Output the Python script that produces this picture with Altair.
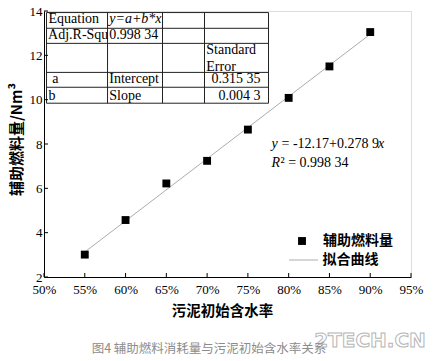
import altair as alt
import pandas as pd

# ---- data ----
moisture = [55, 60, 65, 70, 75, 80, 85, 90]          # 污泥初始含水率 (%)
fuel = [3.01, 4.57, 6.22, 7.24, 8.65, 10.08, 11.50, 13.05]  # 辅助燃料量 (Nm3)
x_ticks = [50, 55, 60, 65, 70, 75, 80, 85, 90, 95]
y_ticks = [2, 4, 6, 8, 10, 12, 14]
point_name = "辅助燃料量"
fit_name = "拟合曲线"
caption = "图4 辅助燃料消耗量与污泥初始含水率关系"

# fit-statistics table (as printed in the reference)
table_cells_left = [
    ("Equation", 50.55, 13.65), ("Adj.R-Squ", 50.50, 12.90), ("0.998 34", 58.0, 12.90),
    ("Standard", 69.9, 12.23), ("Error", 69.9, 11.47),
    ("a", 51.0, 10.92), ("Intercept", 58.0, 10.92),
    ("b", 50.55, 10.15), ("Slope", 58.0, 10.15),
    ("= -12.17+0.278 9", 79.12, 7.99), ("² = 0.998 34", 79.0, 7.13),
]
table_cells_italic = [("y=a+b*x", 58.0, 13.65), ("y", 77.9, 7.99), ("R", 77.9, 7.13), ("x", 90.95, 7.99)]
table_cells_right = [("0.315 35", 76.55, 10.92), ("0.004 3", 76.55, 10.15)]
table_rows = [13.93, 13.22, 12.54, 11.23, 10.56, 9.84]
table_cols = [50.31, 57.79, 64.53, 69.68, 77.53]

SERIF = "Liberation Serif"
CJK = "Noto Sans CJK SC"

W, H = 367, 266

xs = alt.Scale(domain=[50, 95], nice=False, zero=False)
ys = alt.Scale(domain=[2, 14], nice=False, zero=False)

x_axis = alt.Axis(values=x_ticks, labelExpr="datum.value + '%'", tickSize=0, grid=False,
                  domainColor="black", labelFont=SERIF, labelFontSize=13, labelColor="black",
                  labelPadding=6, labelFlush=False, labelOverlap=False,
                  title="污泥初始含水率", titleFont=CJK, titleFontSize=14.5, titleFontWeight="bold",
                  titleColor="black", titleX=178, titleY=34, titleAlign="center", titleBaseline="middle")
y_axis = alt.Axis(values=y_ticks, tickSize=0, grid=False, domainColor="black",
                  labelFont=SERIF, labelFontSize=13, labelColor="black", labelPadding=2,
                  labelFlush=False, labelOverlap=False,
                  title="辅助燃料量/Nm³", titleFont=CJK, titleFontSize=15, titleFontWeight="bold",
                  titleColor="black", titleX=-27.5, titleY=128, titleAngle=270,
                  titleAlign="center", titleBaseline="middle")

X = alt.X("x:Q", scale=xs, axis=x_axis)
Y = alt.Y("y:Q", scale=ys, axis=y_axis)

df = pd.DataFrame({"x": moisture, "y": fuel, "series": point_name})

points = alt.Chart(df).mark_point(filled=True, size=62, opacity=1, color="black", shape="square").encode(
    x=X, y=Y,
    shape=alt.Shape("series:N", scale=alt.Scale(domain=[point_name], range=["square"]),
                    legend=alt.Legend(title=None, orient="none", legendX=251, legendY=223,
                                      labelFont=CJK, labelFontSize=14, labelFontWeight="bold",
                                      labelColor="black", symbolSize=62, symbolFillColor="black",
                                      symbolStrokeWidth=0, labelOffset=14, padding=0)),
)

fit = alt.Chart(df).transform_regression("x", "y").transform_calculate(
    series=f"'{fit_name}'").mark_line(strokeWidth=1).encode(
    x=X, y=Y,
    color=alt.Color("series:N", scale=alt.Scale(domain=[fit_name], range=["#acacac"]),
                    legend=alt.Legend(title=None, orient="none", legendX=244.5, legendY=234,
                                      symbolType="stroke", symbolSize=841, symbolStrokeWidth=1,
                                      symbolStrokeColor="#555", labelFont=CJK, labelFontSize=14,
                                      labelFontWeight="bold", labelColor="black", labelOffset=4,
                                      padding=0)),
)

hlines = pd.DataFrame({"x": [table_cols[0]] * len(table_rows), "x2": [table_cols[-1]] * len(table_rows),
                       "y": table_rows, "y2": table_rows})
vlines = pd.DataFrame({"x": table_cols, "x2": table_cols,
                       "y": [table_rows[0]] * len(table_cols), "y2": [table_rows[-1]] * len(table_cols)})
grid_lines = alt.Chart(pd.concat([hlines, vlines])).mark_rule(color="#222", strokeWidth=1).encode(
    x=X, x2="x2:Q", y=Y, y2="y2:Q")

def text_layer(cells, **kw):
    d = pd.DataFrame(cells, columns=["label", "x", "y"])
    return alt.Chart(d).mark_text(font=SERIF, fontSize=14, color="black", baseline="middle", **kw).encode(
        x=X, y=Y, text="label:N")

t_left = text_layer(table_cells_left, align="left")
t_ital = text_layer(table_cells_italic, align="left", fontStyle="italic")
t_right = text_layer(table_cells_right, align="right")

# inward tick marks
ytk = alt.Chart(pd.DataFrame({"y": y_ticks})).mark_rule(color="black").encode(
    y=Y, x=alt.value(0), x2=alt.value(4))
xtk = alt.Chart(pd.DataFrame({"x": x_ticks})).mark_rule(color="black").encode(
    x=X, y=alt.value(H), y2=alt.value(H - 4))

cap = alt.Chart(pd.DataFrame({"t": [caption]})).mark_text(
    font=CJK, fontSize=12.5, color="#8c8c8c", align="center", baseline="middle").encode(
    text="t:N", x=alt.value(165), y=alt.value(338))

watermark = alt.Chart(pd.DataFrame({"t": ["2TECH.CN"]})).mark_text(
    font="DejaVu Sans", fontSize=20, fontWeight="bold", fill="white", stroke="#b5b5b5",
    strokeWidth=1, align="center", baseline="middle").encode(
    text="t:N", x=alt.value(326), y=alt.value(330))

chart = alt.layer(grid_lines, fit, points, t_left, t_ital, t_right, ytk, xtk, watermark, cap).properties(
    width=W, height=H,
    padding={"left": 44, "top": 11, "right": 435 - 44 - W, "bottom": 361 - 11 - H},
    autosize=alt.AutoSizeParams(type="none"),
).resolve_legend(color="independent", shape="independent").configure_view(stroke=None).configure(
    background="white")

chart.save("out.html", embed_options={"renderer": "svg", "actions": False})
